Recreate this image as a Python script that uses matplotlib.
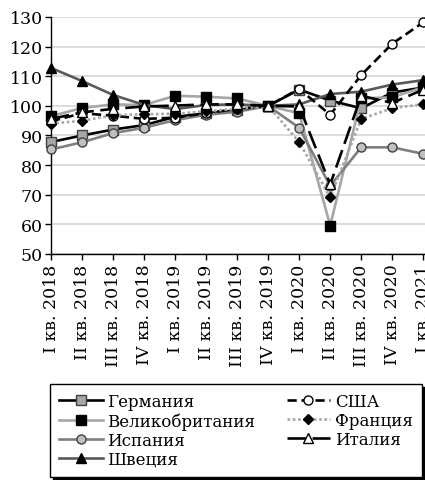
import matplotlib
matplotlib.use("Agg")
import matplotlib.pyplot as plt

plt.rcParams['font.family'] = ['DejaVu Serif']

quarters = ['I кв. 2018', 'II кв. 2018', 'III кв. 2018', 'IV кв. 2018',
            'I кв. 2019', 'II кв. 2019', 'III кв. 2019', 'IV кв. 2019',
            'I кв. 2020', 'II кв. 2020', 'III кв. 2020', 'IV кв. 2020',
            'I кв. 2021']

germany = [87.8, 90.0, 92.0, 93.5, 96.3, 97.5, 98.5, 100.0, 105.5, 101.8, 99.2, 104.5, 106.2]
uk      = [96.5, 99.3, 100.5, 100.3, 103.4, 103.1, 102.5, 100.0, 97.5, 59.6, 102.5, 102.9, 106.3]
spain   = [85.3, 87.7, 90.8, 92.6, 95.2, 97.0, 98.0, 100.0, 92.6, 73.0, 86.0, 86.0, 83.8]
sweden  = [112.8, 108.4, 103.7, 100.3, 98.9, 100.3, 100.5, 100.0, 100.5, 104.0, 104.8, 107.2, 108.7]
usa     = [94.8, 97.5, 96.7, 95.6, 96.0, 97.6, 98.9, 100.0, 105.7, 97.0, 110.4, 121.0, 128.2]
france  = [94.0, 95.0, 96.8, 97.2, 97.3, 98.2, 99.0, 100.0, 87.8, 69.1, 95.6, 99.2, 100.6]
italy   = [95.6, 97.8, 99.0, 99.8, 100.1, 100.5, 100.5, 100.0, 99.8, 73.5, 103.4, 101.0, 105.5]

names = ['Германия', 'Великобритания', 'Испания', 'Швеция', 'США', 'Франция', 'Италия']

W, H = 425, 481
fig = plt.figure(figsize=(W / 100, H / 100), dpi=100)
ax = fig.add_axes([51 / W, (H - 255) / H, (427 - 51) / W, (255 - 18) / H])

x = list(range(len(quarters)))
lw = 1.9
ms = 6.5

styles = [
    dict(data=germany, color='black', ls='-', marker='s', mfc='#a6a6a6', mec='#404040'),
    dict(data=uk, color='#a6a6a6', ls='-', marker='s', mfc='black', mec='black'),
    dict(data=spain, color='#7f7f7f', ls='-', marker='o', mfc='#c0c0c0', mec='#404040'),
    dict(data=sweden, color='#595959', ls='-', marker='^', mfc='black', mec='black'),
    dict(data=usa, color='black', ls=(0, (3.5, 1.8)), marker='o', mfc='white', mec='black'),
    dict(data=france, color='#a6a6a6', ls=(0, (1, 1)), marker='D', mfc='black', mec='black'),
    dict(data=italy, color='black', ls=(0, (7, 2.5)), marker='^', mfc='white', mec='black'),
]

handles = []
for name, st in zip(names, styles):
    msz = ms - 1 if st['marker'] == 'D' else ms
    h, = ax.plot(x, st['data'], color=st['color'], ls=st['ls'], lw=lw,
                 marker=st['marker'], markersize=msz, markerfacecolor=st['mfc'],
                 markeredgecolor=st['mec'], markeredgewidth=1.0, label=name,
                 clip_on=False, zorder=3)
    handles.append(h)

ax.set_xlim(0, 12.12)
ax.set_ylim(50, 130)
ax.set_yticks(range(50, 131, 10))
ax.set_xticks(x)
ax.set_xticklabels(quarters, rotation=90, fontsize=12.5)
ax.tick_params(axis='y', labelsize=12.5, length=4, width=1, direction='out', pad=2)
ax.tick_params(axis='x', length=4, width=1, direction='out', pad=3)
ax.grid(axis='y', color='#d9d9d9', lw=1.3, zorder=0)
ax.set_axisbelow(True)
for s in ['top', 'right']:
    ax.spines[s].set_visible(False)
for s in ['left', 'bottom']:
    ax.spines[s].set_linewidth(1.0)
    ax.spines[s].set_zorder(2)

leg = fig.legend(handles=handles, ncol=2, loc='upper left',
                 bbox_to_anchor=(50 / W, (H - 477) / H, 372 / W, 92 / H),
                 mode='expand', fontsize=12, frameon=True, fancybox=False,
                 edgecolor='black', borderpad=0.55, labelspacing=0.12,
                 handlelength=2.6, handletextpad=0.3, columnspacing=0.5,
                 borderaxespad=0, shadow={'color': 'black', 'alpha': 1.0, 'ox': 2, 'oy': -2})
leg.get_frame().set_linewidth(1.0)

fig.savefig('out.png', dpi=100)
